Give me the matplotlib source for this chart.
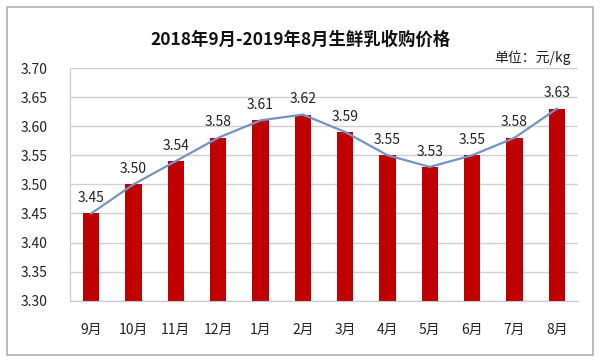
import matplotlib
matplotlib.use("Agg")
import matplotlib.pyplot as plt
from matplotlib.patches import Rectangle

plt.rcParams['font.family'] = ['Noto Sans CJK SC', 'DejaVu Sans']

months = ['9月', '10月', '11月', '12月', '1月', '2月', '3月', '4月', '5月', '6月', '7月', '8月']
prices = [3.45, 3.50, 3.54, 3.58, 3.61, 3.62, 3.59, 3.55, 3.53, 3.55, 3.58, 3.63]
yticks = [3.30, 3.35, 3.40, 3.45, 3.50, 3.55, 3.60, 3.65, 3.70]

fig = plt.figure(figsize=(6, 3.61), dpi=100)
ax = fig.add_axes([0.1167, 0.167, 0.8467, 0.6446])

x = range(len(months))
ax.bar(x, prices, width=0.39, color='#C00000', zorder=2)
ax.plot(x, prices, color='#7393C4', lw=1.6, zorder=3)

for i, v in enumerate(prices):
    ax.annotate('%.2f' % v, (i, v), xytext=(0, 6), textcoords='offset points',
                ha='center', va='bottom', fontsize=10, color='#222222')

ax.set_ylim(3.30, 3.70)
ax.set_xlim(-0.5, len(months) - 0.5)
ax.set_yticks(yticks)
ax.set_yticklabels(['%.2f' % t for t in yticks])
ax.set_xticks(list(x))
ax.set_xticklabels(months)
ax.tick_params(axis='both', length=0, labelsize=10, colors='#222222')
ax.tick_params(axis='x', pad=16)
ax.tick_params(axis='y', pad=16)
ax.grid(axis='y', color='#D0D0D0', lw=1, zorder=0)
for s in ['top', 'right']:
    ax.spines[s].set_visible(False)
ax.spines['left'].set_color('#C8C8C8')
ax.spines['bottom'].set_color('#C8C8C8')

fig.text(0.5, 0.89, '2018年9月-2019年8月生鲜乳收购价格', ha='center', va='center',
         fontsize=12.5, fontweight='bold', color='#111111')
fig.text(0.952, 0.84, '单位：元/kg', ha='right', va='center', fontsize=10, color='#222222')

fig.patches.append(Rectangle((0.011, 0.017), 0.978, 0.963, transform=fig.transFigure,
                             fill=False, edgecolor='#B0B0B0', lw=1.2))

fig.savefig('out.png', dpi=100)
